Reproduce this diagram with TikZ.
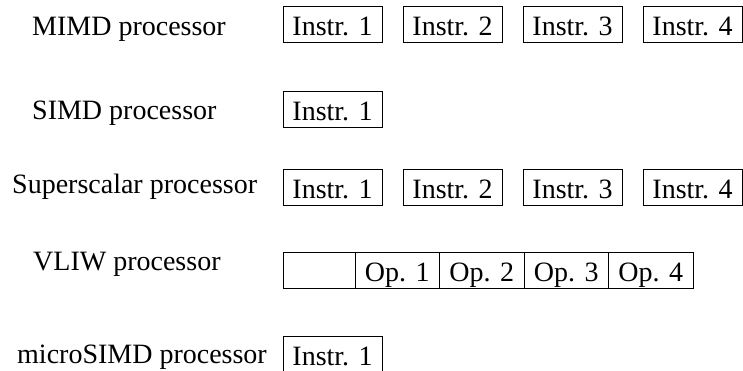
\documentclass[tikz,border=0pt]{standalone}
\usepackage{fontspec}
\setmainfont{Liberation Serif}
\usetikzlibrary{positioning}
\tikzset{
  instr/.style  = {draw, line width=0.8pt, minimum width=99pt,
                   minimum height=36pt, inner sep=0pt, outer sep=0pt,
                   text height=29pt, text depth=7pt},
  opcell/.style = {instr, minimum width=84.5pt},
  proc/.style   = {inner sep=0pt, anchor=base west}
}

\begin{document}
\begin{tikzpicture}[
    x=1pt, y=-1pt,
    font=\fontsize{28}{34}\selectfont,
    node distance=21pt
]
\useasboundingbox (0,0) rectangle (743,370);

% MIMD: four independent instruction streams
\node[proc] (mimd) at (32,35) {MIMD processor};
\node[instr, anchor=base west] (mimd1) at (283,35) {Instr. 1};
\node[instr, right=of mimd1] (mimd2) {Instr. 2};
\node[instr, right=of mimd2] (mimd3) {Instr. 3};
\node[instr, right=of mimd3] (mimd4) {Instr. 4};

% SIMD
\node[proc] (simd) at (32,119) {SIMD processor};
\node[instr, anchor=base west] (simd1) at (283,120) {Instr. 1};

% superscalar
\node[proc] (sups) at (12,193) {Superscalar processor};
\node[instr, anchor=base west] (sups1) at (283,198) {Instr. 1};
\node[instr, right=of sups1] (sups2) {Instr. 2};
\node[instr, right=of sups2] (sups3) {Instr. 3};
\node[instr, right=of sups3] (sups4) {Instr. 4};

% VLIW: one long word, cells share their borders
\node[proc] (vliw) at (33,270) {VLIW processor};
\node[instr, minimum width=72pt, anchor=base west] (vliw0) at (283,281) {};
\node[opcell, right=0pt of vliw0] (vliw1) {Op. 1};
\node[opcell, right=0pt of vliw1] (vliw2) {Op. 2};
\node[opcell, right=0pt of vliw2] (vliw3) {Op. 3};
\node[opcell, right=0pt of vliw3] (vliw4) {Op. 4};

% microSIMD
\node[proc] (usimd) at (17,363) {microSIMD processor};
\node[instr, anchor=base west] (usimd1) at (283,365) {Instr. 1};
\end{tikzpicture}
\end{document}
